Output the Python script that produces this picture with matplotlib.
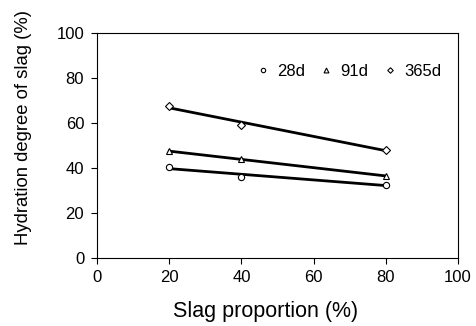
import numpy as np
import matplotlib
matplotlib.use("Agg")
import matplotlib.pyplot as plt

plt.rcParams['font.family'] = ['Liberation Sans', 'DejaVu Sans']

slag = [20, 40, 80]
d28 = [40.5, 35.7, 32.5]
d91 = [47.3, 43.8, 36.3]
d365 = [67.5, 59.0, 48.0]
xticks = [0, 20, 40, 60, 80, 100]
yticks = [0, 20, 40, 60, 80, 100]

fig = plt.figure(figsize=(4.76, 3.26), dpi=100)
ax = fig.add_axes([0.204, 0.210, 0.758, 0.689])

series = [(d28, 'o', '28d', 4.5), (d91, '^', '91d', 5), (d365, 'D', '365d', 4)]
xs = np.array(slag, dtype=float)
for vals, m, lab, ms in series:
    k, b = np.polyfit(xs, vals, 1)
    xl = np.array([20, 80])
    ax.plot(xl, k * xl + b, color='black', lw=2.0, zorder=2)
    ax.plot(slag, vals, linestyle='none', marker=m, ms=ms, mfc='white', mec='black',
            mew=0.8, label=lab, zorder=3)

ax.set_xlim(0, 100)
ax.set_ylim(0, 100)
ax.set_xticks(xticks)
ax.set_yticks(yticks)
ax.tick_params(direction='out', length=4.3, width=0.8, labelsize=12, colors='black', pad=5)
for s in ax.spines.values():
    s.set_linewidth(0.8)

fig.text(265.5 / 476, 9 / 326, 'Slag proportion (%)', fontsize=15.5,
         ha='center', va='baseline')
fig.text(24 / 476, (326 - 127.5) / 326, 'Hydration degree of slag (%)', fontsize=13.3,
         rotation=90, ha='center', va='center')

leg = ax.legend(loc='center right', ncol=3, frameon=False, fontsize=12,
                handletextpad=0.34, columnspacing=0.78, handlelength=1.0,
                markerscale=0.7, borderpad=0, borderaxespad=0,
                bbox_to_anchor=(0.953, 0.827))

fig.savefig('out.png', dpi=100)
